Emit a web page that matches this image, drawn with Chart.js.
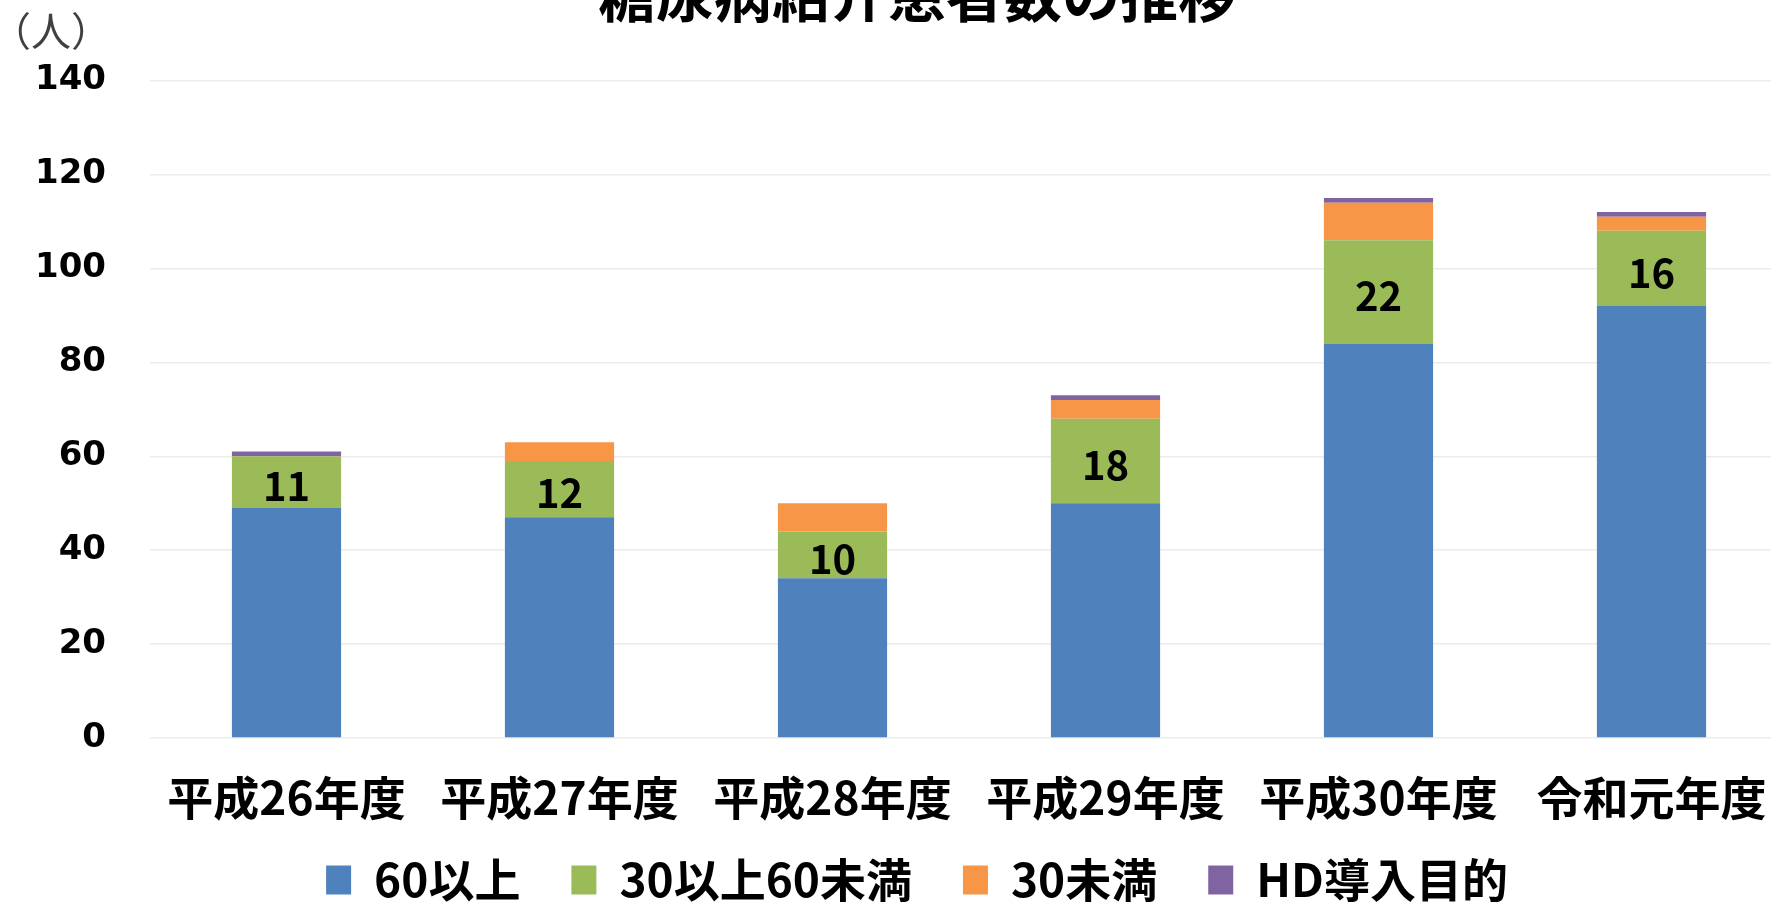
<!DOCTYPE html>
<html>
<head>
<meta charset="utf-8">
<script src="https://cdn.jsdelivr.net/npm/chart.js@4"></script>
<style>
  html, body { margin: 0; padding: 0; background: #fff; overflow: hidden; }
  #wrap { position: relative; width: 1834px; height: 913px; }
</style>
</head>
<body>
<div id="wrap"><canvas id="chart1"></canvas></div>
<script>
const years = ['平成26年度', '平成27年度', '平成28年度', '平成29年度', '平成30年度', '令和元年度'];
const over60 = [49, 47, 34, 50, 84, 92];
const from30to60 = [11, 12, 10, 18, 22, 16];
const under30 = [0, 4, 6, 4, 8, 3];
const hdIntro = [1, 0, 0, 1, 1, 1];
const seriesNames = ['60以上', '30以上60未満', '30未満', 'HD導入目的'];
const yTicks = [0, 20, 40, 60, 80, 100, 120, 140];

const jpFont = '"Noto Sans CJK JP", "Noto Sans", sans-serif';

// numbers on the green segment only
const segmentLabels = {
  id: 'segmentLabels',
  afterDatasetsDraw(chart) {
    const ctx = chart.ctx;
    const meta = chart.getDatasetMeta(1);
    ctx.save();
    ctx.font = 'bold 40px ' + jpFont;
    ctx.fillStyle = '#000';
    ctx.textAlign = 'center';
    ctx.textBaseline = 'middle';
    meta.data.forEach((bar, i) => {
      const midY = (bar.y + bar.base) / 2;
      ctx.fillText(from30to60[i], bar.x, midY + 4);
    });
    ctx.restore();
  }
};

// unit label top-left
const unitLabel = {
  id: 'unitLabel',
  afterDraw(chart) {
    const ctx = chart.ctx;
    ctx.save();
    ctx.font = '40px ' + jpFont;
    ctx.fillStyle = '#404040';
    ctx.textAlign = 'left';
    ctx.textBaseline = 'middle';
    ctx.fillText('（人）', -9, 31);
    ctx.restore();
  }
};

const data = {
  labels: years,
  datasets: [
    { label: seriesNames[0], data: over60, backgroundColor: '#4F81BD' },
    { label: seriesNames[1], data: from30to60, backgroundColor: '#9BBB59' },
    { label: seriesNames[2], data: under30, backgroundColor: '#F79646' },
    { label: seriesNames[3], data: hdIntro, backgroundColor: '#8064A2' }
  ]
};

const config = {
  type: 'bar',
  data: data,
  options: {
    responsive: true,
    maintainAspectRatio: false,
    animation: false,
    layout: { padding: 0 },
    datasets: {
      bar: { barPercentage: 0.4, categoryPercentage: 1.0 }
    },
    scales: {
      x: {
        stacked: true,
        grid: { display: false, drawTicks: false },
        border: { display: false },
        ticks: {
          color: '#000',
          padding: 32,
          font: { family: jpFont, size: 46, weight: 'bold' }
        },
        afterFit: (s) => { s.height = 114; }
      },
      y: {
        stacked: true,
        min: 0,
        max: 140,
        afterBuildTicks: (s) => { s.ticks = yTicks.map(v => ({ value: v })); },
        grid: { color: '#ececec', drawTicks: false, lineWidth: 1.5 },
        border: { display: false },
        ticks: {
          color: '#000',
          padding: 44,
          font: { family: '"DejaVu Sans", sans-serif', size: 34, weight: 'bold' }
        },
        afterFit: (s) => { s.width = 150; }
      },
      // empty right-hand margin
      yRight: {
        position: 'right',
        display: true,
        grid: { display: false, drawTicks: false },
        border: { display: false },
        ticks: { display: false },
        afterFit: (s) => { s.width = 46; }
      }
    },
    plugins: {
      title: {
        display: true,
        text: '糖尿病紹介患者数の推移',
        color: '#000',
        font: { family: jpFont, size: 58, weight: 'bold', lineHeight: 1.2 },
        padding: { top: -40, bottom: 51 }
      },
      legend: {
        position: 'bottom',
        labels: {
          color: '#000',
          boxWidth: 25,
          boxHeight: 29,
          padding: 5,
          font: { family: jpFont, size: 46, weight: 'bold' },
          generateLabels: (chart) => {
            const items = Chart.defaults.plugins.legend.labels.generateLabels(chart);
            items.forEach((it, i) => {
              if (i < items.length - 1) it.text = it.text + '\u3000';
            });
            return items;
          }
        }
      },
      tooltip: { enabled: false }
    }
  },
  plugins: [segmentLabels, unitLabel]
};

new Chart(document.querySelector('#chart1'), config);
</script>
</body>
</html>
